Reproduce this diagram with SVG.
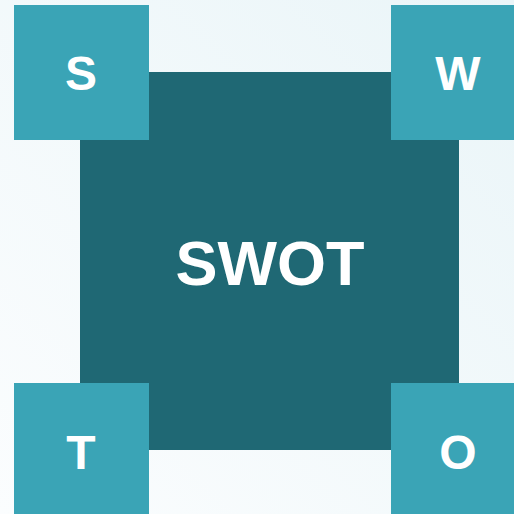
<svg xmlns="http://www.w3.org/2000/svg" width="514" height="514" viewBox="0 0 514 514">
<defs>
<linearGradient id="bg" x1="1" y1="0" x2="0" y2="1">
<stop offset="0" stop-color="#eaf5f8"/>
<stop offset="1" stop-color="#fbfdfe"/>
</linearGradient>
<style>
.q{fill:#3aa4b6}
.c{fill:#1f6874}
.t{font-family:"Liberation Sans",Arial,sans-serif;font-weight:bold;fill:#ffffff;text-anchor:middle}
</style>
</defs>
<rect width="514" height="514" fill="url(#bg)"/>
<g id="center">
<rect class="c" x="80" y="72" width="379" height="378"/>
<text class="t" x="270" y="285" font-size="63">SWOT</text>
</g>
<g id="S">
<rect class="q" x="14" y="5" width="135" height="135"/>
<text class="t" x="81" y="90" font-size="48">S</text>
</g>
<g id="W">
<rect class="q" x="391" y="5" width="135" height="135"/>
<text class="t" x="458" y="90" font-size="48">W</text>
</g>
<g id="T">
<rect class="q" x="14" y="383" width="135" height="135"/>
<text class="t" x="81" y="469" font-size="48">T</text>
</g>
<g id="O">
<rect class="q" x="391" y="383" width="135" height="135"/>
<text class="t" x="458" y="469" font-size="48">O</text>
</g>
<g id="connectors"/>
</svg>
